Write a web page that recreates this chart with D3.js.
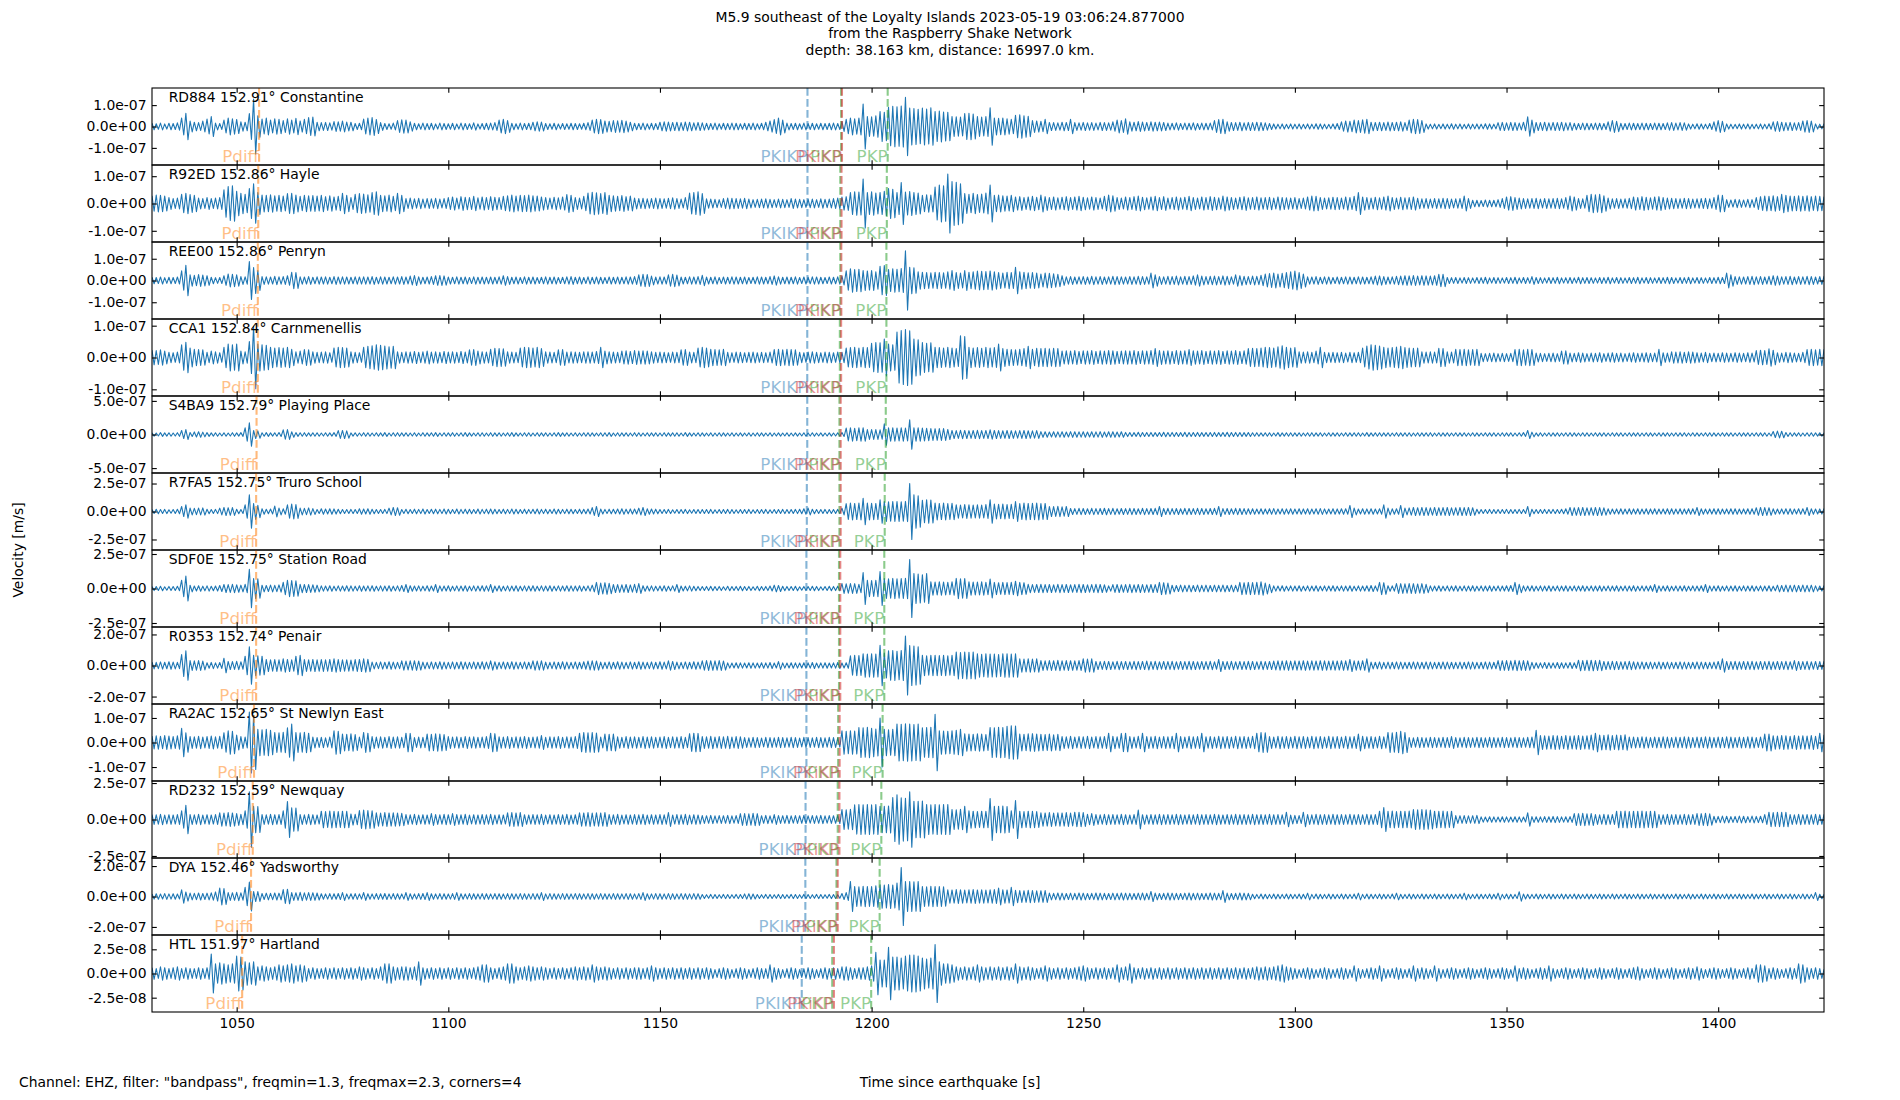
<!DOCTYPE html>
<html>
<head>
<meta charset="utf-8">
<script src="https://cdn.jsdelivr.net/npm/d3@7"></script>
<style>
  body { margin: 0; background: #fff; }
  text { font-family: "DejaVu Sans", sans-serif; }
</style>
</head>
<body>
<svg id="chart" width="1900" height="1100"></svg>
<script>
// ---- data ----
// amplitude lists: peak |velocity| in nm/s for every second from startTime on
const startTime = 1030;
const timeTicks = [1050, 1100, 1150, 1200, 1250, 1300, 1350, 1400];

const stations = ["RD884", "R92ED", "REE00", "CCA1", "S4BA9", "R7FA5", "SDF0E", "R0353", "RA2AC", "RD232", "DYA", "HTL"];
const distances = [152.91, 152.86, 152.86, 152.84, 152.79, 152.75, 152.75, 152.74, 152.65, 152.59, 152.46, 151.97];
const places = ["Constantine", "Hayle", "Penryn", "Carnmenellis", "Playing Place", "Truro School", "Station Road", "Penair", "St Newlyn East", "Newquay", "Yadsworthy", "Hartland"];

// y range (nm/s) and tick step (nm/s) of each panel
const yLimits = [180, 141, 177, 121, 573, 344, 279, 248, 157, 264, 253, 39.8];
const yTickSteps = [100, 100, 100, 100, 500, 250, 250, 200, 100, 250, 200, 25];

// phase arrival times (s)
const pdiffTimes = [1055.3, 1055.1, 1055.0, 1055.0, 1054.7, 1054.6, 1054.6, 1054.6, 1054.1, 1053.8, 1053.4, 1051.3];
const pkikpTimes = [1184.85, 1184.85, 1184.85, 1184.8, 1184.8, 1184.7, 1184.6, 1184.6, 1184.6, 1184.4, 1184.35, 1183.5];
const pkpTimes = [1192.8, 1192.6, 1192.6, 1192.5, 1192.4, 1192.4, 1192.3, 1192.3, 1192.1, 1192.0, 1191.7, 1190.7];
const pkikpInnerTimes = [1193.0, 1192.9, 1192.85, 1192.8, 1192.7, 1192.7, 1192.6, 1192.6, 1192.45, 1192.4, 1192.0, 1191.1];
const pkpLateTimes = [1203.8, 1203.6, 1203.5, 1203.5, 1203.35, 1203.1, 1203.0, 1203.0, 1202.6, 1202.3, 1201.9, 1199.9];

const ampRD884 = [
15,13,16,12,15,14,17,40,62,25, 20,18,25,35,47,16,14,30,39,36, 33,22,20,60,128,50,35,39,30,36,
34,28,36,30,38,26,34,42,44,20, 18,19,17,23,22,25,21,20,14,15, 35,39,42,33,18,14,13,16,28,31,
30,22,15,13,16,14,15,12,16,14, 13,15,12,16,14,13,17,12,14,15, 16,18,30,34,28,15,13,16,14,15,
20,22,21,14,13,15,12,14,13,15, 14,13,15,18,30,34,32,26,24,28, 27,29,25,20,15,14,16,13,15,14,
20,22,21,19,20,18,21,20,17,19, 17,15,14,16,13,15,14,16,15,13, 15,14,16,13,15,20,26,32,39,30,
16,14,15,13,16,14,15,13,15,14, 15,16,14,23,34,39,36,39,105,47, 45,50,70,66,90,94,92,96,136,86,
84,80,86,82,88,70,72,68,66,47, 45,44,60,62,58,47,44,46,88,40, 38,39,36,34,52,55,50,48,28,26,
24,34,19,18,17,20,19,34,18,17, 19,17,18,16,19,18,17,22,30,28, 36,22,20,23,21,19,22,20,21,19,
16,15,17,14,16,15,17,14,16,15, 16,28,32,34,22,19,18,20,17,19, 18,20,19,17,14,12,11,12,10,12,
11,12,10,12,11,13,12,11,10,12, 14,22,26,24,30,28,31,34,20,19, 20,18,21,19,20,22,18,30,34,32,
28,12,11,12,10,12,11,13,11,12, 10,12,11,12,11,13,12,11,18,19, 17,19,18,16,20,45,30,19,18,20,
17,19,18,20,17,18,15,14,16,15, 14,16,15,14,22,28,24,15,14,16, 15,14,16,15,14,16,15,14,17,18,
16,18,17,12,11,13,12,11,14,22, 28,24,12,11,10,12,11,12,10,11, 12,11,13,22,23,20,18,19,17,18,
26,28,25,12,11,12];

const ampR92ED = [
28,31,30,27,22,18,20,34,37,33, 30,20,18,22,18,20,22,50,62,65, 45,37,34,55,72,40,31,30,32,28,
30,27,36,37,31,26,30,28,29,27, 30,25,28,24,26,37,30,22,34,36, 35,32,40,43,30,28,31,26,37,30,
18,20,17,19,16,18,17,19,16,18, 22,24,20,25,23,22,26,21,24,22, 25,23,22,26,28,31,27,30,29,31,
28,27,24,22,20,23,21,24,33,30, 22,20,26,38,41,39,36,40,30,28, 26,29,25,27,20,18,19,17,18,20,
18,17,19,21,18,16,22,38,40,43, 36,17,16,15,14,18,20,19,18,17, 19,16,14,15,16,17,15,14,16,15,
14,18,16,15,14,15,16,14,17,15, 16,18,20,24,25,40,43,42,90,40, 43,38,40,45,55,52,40,77,42,44,
40,38,30,32,31,60,68,65,108,80, 78,72,36,34,37,33,35,38,68,30, 31,28,27,30,24,25,22,24,26,23,
31,25,22,24,21,23,25,22,24,26, 23,21,24,22,20,26,31,28,22,20, 24,22,25,27,23,21,24,26,22,25,
20,22,24,21,23,26,22,20,24,22, 25,23,21,27,24,22,20,23,25,21, 22,24,21,22,23,20,24,22,21,20,
22,18,20,24,27,26,22,20,21,23, 22,20,24,22,26,40,24,22,20,23, 21,24,27,22,20,23,21,22,24,19,
17,18,16,18,17,19,18,16,17,18, 27,18,12,12,11,13,12,12,14,18, 24,25,22,20,18,17,18,19,16,18,
17,18,19,17,22,27,24,18,17,30, 34,32,34,28,20,17,18,16,17,19, 24,22,25,23,21,24,25,22,20,19,
18,17,19,18,16,17,18,19,17,22, 31,30,14,13,15,14,13,15,14,22, 25,27,26,28,25,34,30,27,26,28,
26,28,25,27,26,24];

const ampREE00 = [
15,14,16,13,15,14,16,45,70,26, 24,27,25,22,15,13,14,22,30,28, 26,18,17,87,60,46,18,17,16,19,
17,18,22,38,36,17,16,18,15,17, 16,17,15,18,16,17,16,15,17,16, 17,16,18,15,17,16,15,17,16,18,
16,20,23,17,15,16,18,22,23,21, 16,15,17,15,16,14,17,15,16,15, 16,15,17,22,18,15,16,14,17,15,
16,14,15,17,15,16,14,15,17,18, 15,16,14,17,15,16,15,14,16,15, 16,15,17,16,18,26,28,27,20,16,
17,16,26,28,25,16,15,17,16,18, 24,16,15,17,14,16,15,17,16,15, 16,14,15,17,16,15,18,21,17,15,
16,15,17,14,16,15,17,16,15,14, 16,15,17,20,45,54,50,52,46,44, 46,40,65,69,50,54,52,55,136,61,
58,40,38,36,35,38,37,35,40,46, 36,34,46,38,40,43,42,41,44,40, 36,34,38,36,61,40,38,35,37,34,
30,34,33,31,28,22,17,18,16,17, 18,16,19,17,18,16,17,19,18,17, 16,18,17,19,18,17,34,26,18,17,
19,18,20,17,19,18,21,26,20,18, 19,20,18,21,19,17,26,22,19,18, 20,19,24,30,32,34,30,33,36,40,
43,36,30,17,16,18,15,17,16,14, 16,15,17,16,15,17,16,15,17,20, 21,18,16,17,19,20,22,21,23,20,
22,21,20,22,28,28,14,13,14,12, 14,13,12,14,13,15,12,14,13,12, 14,13,15,12,14,13,18,14,13,12,
14,13,15,12,13,14,12,15,13,14, 13,12,14,13,15,12,14,13,12,14, 13,15,12,14,13,12,14,13,15,14,
12,14,13,15,12,14,13,12,14,13, 15,14,34,26,18,17,16,18,19,17, 18,16,19,22,20,17,18,19,16,18,
17,19,18,16,18,19];

const ampCCA1 = [
23,22,24,20,16,15,17,40,48,30, 26,25,24,16,20,18,15,32,42,40, 42,20,18,50,98,42,40,38,32,30,
31,30,32,26,18,20,25,24,18,16, 17,18,15,30,32,31,30,18,16,15, 32,35,37,40,38,36,34,35,18,16,
18,17,19,16,18,20,17,18,16,19, 17,18,16,19,17,24,25,20,18,17, 26,29,28,27,18,17,16,30,32,31,
30,32,28,18,17,16,24,25,17,18, 17,16,18,18,17,19,32,20,18,17, 16,20,21,19,22,20,21,20,18,16,
17,16,15,17,16,24,25,17,16,30, 32,30,26,25,24,26,16,15,17,16, 15,16,17,15,16,15,17,25,26,24,
26,25,24,16,15,17,18,16,15,17, 16,15,17,16,30,31,32,30,32,31, 45,47,46,58,42,40,80,85,88,84,
58,56,47,45,46,32,31,30,32,30, 28,68,66,32,30,31,29,32,30,31, 42,28,26,25,24,26,28,35,26,29,
28,29,27,29,28,20,21,20,22,19, 21,20,22,19,21,20,22,21,19,20, 21,20,22,19,21,20,22,28,22,20,
21,19,22,20,21,25,21,20,22,19, 21,20,22,19,21,20,22,19,21,28, 29,28,30,32,31,30,34,37,32,30,
31,18,17,18,16,20,32,16,15,16, 15,16,14,16,15,16,30,36,40,38, 36,32,30,31,33,35,31,30,29,30,
18,17,18,17,29,28,18,17,26,25, 26,24,25,26,13,12,13,14,12,13, 12,13,25,26,24,26,25,14,13,12,
13,14,12,20,21,14,13,15,14,12, 14,13,15,12,14,15,13,14,12,14, 15,13,14,15,13,14,26,15,14,18,
17,18,16,18,17,15,14,16,13,14, 13,15,14,13,15,14,13,15,14,22, 23,22,27,23,15,14,16,15,14,13,
16,25,26,24,26,25];

const ampS4BA9 = [
25,22,28,24,26,23,27,60,74,30, 38,40,35,28,24,26,22,25,23,27, 24,28,99,175,60,55,25,28,24,26,
30,70,74,40,28,25,27,24,26,25, 23,26,24,28,58,60,55,24,26,23, 27,25,22,26,24,28,23,25,27,24,
26,23,25,22,27,24,26,28,23,25, 24,27,23,25,28,24,22,26,25,23, 27,24,26,22,25,28,24,23,26,25,
22,27,24,25,23,26,28,24,25,22, 26,23,25,27,24,22,26,25,28,23, 25,24,26,23,27,25,22,26,24,25,
23,27,24,26,25,22,28,24,23,26, 24,22,25,23,26,24,22,25,23,24, 22,25,23,26,24,22,25,23,24,22,
25,23,24,22,26,23,25,22,24,23, 24,22,25,30,95,99,92,98,99,74, 72,74,70,160,99,98,96,99,95,220,
99,98,96,92,89,86,88,89,75,60, 58,62,60,57,60,62,58,60,70,60, 58,56,60,57,55,58,60,56,54,58,
42,40,38,41,39,40,38,42,40,39, 41,38,40,39,42,38,40,41,37,40, 31,30,28,32,30,29,31,28,30,32,
29,31,30,28,32,29,30,31,28,30, 29,31,28,30,32,29,31,30,28,30, 25,27,24,26,25,23,28,24,26,25,
24,26,23,25,27,24,25,23,26,24, 25,23,27,24,26,25,23,28,24,25, 26,24,25,23,27,24,26,25,23,26,
24,25,27,23,26,24,25,22,26,24, 25,23,26,24,22,25,24,26,23,25, 24,26,23,25,28,60,35,24,26,23,
25,24,26,23,25,27,24,23,26,25, 23,26,24,25,22,26,24,25,23,26, 24,25,23,26,24,22,25,24,26,23,
25,24,26,23,25,24,22,26,25,24, 23,26,24,25,22,26,24,25,23,26, 24,25,23,45,50,48,30,25,24,26,
23,25,26,24,25,23];

const ampR7FA5 = [
18,20,17,19,16,18,20,45,60,30, 28,30,32,20,18,19,30,36,34,35, 20,18,60,150,70,55,25,20,22,48,
30,24,60,66,62,30,28,32,26,18, 24,22,25,23,20,18,17,19,18,24, 22,24,20,18,17,19,30,36,34,18,
20,18,21,19,22,18,20,21,19,22, 20,18,22,19,21,20,18,22,19,21, 22,20,18,21,19,22,20,18,21,19,
20,22,19,21,18,22,20,19,21,20, 18,21,20,22,35,45,22,19,21,20, 22,24,21,23,22,30,36,24,22,21,
18,17,19,16,18,17,19,16,18,17, 18,17,19,16,18,17,19,18,16,18, 17,19,16,18,17,19,16,18,17,19,
18,17,19,20,24,30,20,18,17,19, 18,17,19,30,70,75,72,75,119,75, 74,72,104,89,86,88,89,86,90,250,
149,140,100,104,102,75,72,75,70,74, 60,58,62,60,57,60,58,62,104,66, 64,66,62,65,89,70,75,72,74,75,
70,72,45,44,46,42,45,27,26,28, 27,25,28,26,27,29,26,28,25,27, 26,28,27,25,28,26,27,28,45,27,
28,26,27,25,28,27,26,28,27,25, 27,28,45,26,27,25,28,27,26,25, 24,22,25,23,24,26,22,24,23,25,
22,24,23,25,22,24,26,23,22,24, 23,25,24,54,30,22,24,23,25,22, 24,60,30,24,25,54,30,32,36,34,
36,35,33,36,34,35,36,33,34,36, 35,36,34,20,18,17,19,18,17,18, 19,17,18,19,18,45,20,18,17,19,
18,19,17,20,24,36,34,35,36,33, 34,36,35,33,24,22,23,24,22,25, 23,24,22,25,23,24,22,23,25,24,
22,24,23,25,24,36,24,22,23,25, 24,22,23,25,24,22,23,24,25,34, 36,35,34,24,22,23,25,24,22,24,
25,36,24,22,23,24];

const ampSDF0E = [
15,14,16,13,15,14,16,60,90,24, 18,20,17,19,16,18,22,29,28,30, 27,24,30,140,73,70,24,22,25,23,
26,45,60,58,55,30,29,28,27,24, 19,18,20,17,19,18,20,19,17,20, 18,19,20,17,19,18,20,17,19,22,
29,20,18,19,17,20,18,29,19,18, 20,17,19,18,20,17,19,18,20,19, 29,18,20,17,19,18,20,17,19,18,
20,17,19,18,20,17,19,18,20,19, 18,20,17,19,24,44,40,42,38,29, 28,27,29,26,30,36,20,18,19,17,
18,20,17,19,29,18,17,19,16,15, 14,15,16,14,15,13,16,14,15,16, 14,15,13,16,14,15,18,24,22,16,
15,14,16,13,15,14,16,15,13,14, 16,15,17,36,34,36,35,30,116,60, 58,60,123,72,70,73,71,72,74,210,
109,105,100,108,48,46,48,47,45,48, 73,70,72,48,46,47,48,45,68,44, 42,44,43,45,53,44,42,30,28,29,
30,28,29,27,30,28,29,27,28,30, 29,27,28,30,29,27,19,28,29,27, 28,30,27,29,28,27,29,28,44,42,
40,24,22,25,23,24,22,25,23,24, 22,24,23,25,22,24,23,44,42,44, 43,45,48,40,30,19,18,20,17,19,
18,20,17,19,18,20,17,19,18,20, 17,19,18,20,17,19,18,20,22,19, 44,42,20,19,36,35,34,36,35,33,
35,30,19,18,20,17,19,18,20,17, 19,18,20,17,19,18,20,17,19,18, 20,22,44,30,19,18,20,17,19,18,
20,17,19,18,20,17,19,18,20,17, 19,18,20,17,19,18,20,17,19,18, 20,17,19,18,20,29,19,18,20,17,
19,18,20,17,19,18,20,29,19,18, 20,17,19,18,20,17,19,18,20,17, 19,18,20,17,24,22,25,23,24,22,
25,23,24,19,18,20];

const ampR0353 = [
22,20,23,21,24,22,20,70,95,32, 30,32,28,18,20,17,19,47,26,25, 27,24,60,120,65,62,60,39,36,38,
37,43,39,36,60,65,38,37,39,36, 38,37,39,43,38,36,37,35,38,39, 43,40,22,20,23,21,24,22,20,30,
28,30,31,29,22,20,23,21,24,22, 20,23,21,24,22,20,23,21,24,22, 30,24,20,23,21,24,22,20,23,21,
30,28,30,22,20,23,21,24,22,20, 23,21,24,28,30,29,22,20,23,21, 24,22,20,23,21,24,22,20,23,21,
24,22,30,26,22,20,23,21,24,22, 30,32,31,30,32,29,17,16,18,17, 16,18,17,16,18,17,19,16,25,17,
16,18,17,16,18,17,19,16,17,18, 16,17,19,16,18,62,65,64,75,73, 75,74,130,80,95,97,92,97,190,129,
125,120,65,62,65,66,64,65,63,65, 86,84,86,85,86,75,72,75,74,73, 70,75,76,74,75,43,42,43,41,43,
32,30,32,31,33,30,32,31,30,32, 43,42,43,26,25,27,26,24,27,25, 26,24,27,25,26,28,25,27,24,26,
25,27,24,26,25,27,26,24,26,25, 27,24,39,26,25,27,24,26,25,27, 26,24,27,25,26,28,30,29,31,28,
30,29,31,28,30,29,31,30,28,30, 29,31,30,39,30,29,31,43,22,21, 23,20,22,21,23,22,20,21,23,22,
21,23,22,20,21,23,22,21,20,22, 21,23,22,20,21,23,22,21,32,31, 32,30,33,31,32,30,20,18,17,19,
18,17,19,18,17,19,18,34,32,33, 34,32,33,26,25,27,26,24,25,27, 24,22,23,21,22,20,23,21,22,20,
21,23,22,20,21,23,22,21,20,22, 26,43,26,25,27,24,26,25,27,24, 26,25,27,24,26,25,27,24,32,26,
25,27,24,26,25,27];

const ampRA2AC = [
26,27,25,28,26,24,27,58,40,24, 23,25,22,24,26,23,25,40,48,46, 30,24,22,124,110,54,52,54,50,41,
40,42,60,75,41,40,42,38,22,20, 21,19,22,48,46,34,33,35,32,22, 41,38,24,22,23,21,24,22,23,21,
38,37,20,22,21,34,33,35,34,32, 24,22,23,21,24,22,23,21,22,24, 38,36,23,22,24,21,23,22,24,21,
22,23,28,21,23,22,24,21,23,22, 24,38,41,40,41,39,22,34,33,34, 23,21,24,22,23,21,24,22,23,21,
22,24,21,23,22,24,21,36,38,37, 24,23,25,22,24,23,25,22,24,23, 20,19,21,20,18,21,20,19,21,20,
19,21,20,18,21,20,19,21,20,19, 21,20,19,48,46,48,47,61,60,62, 58,55,100,54,52,54,75,74,76,75,
73,75,60,61,62,115,48,47,46,48, 50,54,35,34,33,35,34,32,61,60, 62,61,66,68,67,34,33,35,36,34,
33,32,34,31,33,24,23,25,22,24, 23,25,22,24,23,24,38,25,23,37, 38,24,22,25,38,24,23,25,22,24,
23,25,38,24,22,25,23,24,38,23, 24,22,25,23,24,22,25,23,24,22, 25,38,41,40,24,22,25,23,24,22,
25,23,24,22,25,23,24,22,25,23, 24,22,25,23,24,34,25,23,24,22, 25,23,41,40,42,46,41,20,19,21,
20,19,21,20,19,21,20,24,20,19, 21,20,19,21,20,19,21,20,19,21, 20,19,21,20,19,21,22,50,28,27,
26,28,27,25,28,26,27,28,26,27, 30,38,30,29,31,28,30,29,31,22, 22,21,23,22,20,22,21,23,22,20,
22,21,23,22,20,22,21,23,22,20, 22,21,23,22,20,22,21,23,22,20, 22,34,34,27,26,28,27,25,28,26,
27,26,28,25,38,30];

const ampRD232 = [
34,32,35,30,33,31,34,60,97,34, 32,35,30,33,31,34,46,44,47,45, 40,35,60,190,91,88,34,32,35,33,
34,60,123,80,78,34,32,35,33,31, 57,55,58,56,54,57,56,38,35,62, 64,62,60,46,44,47,45,46,44,43,
34,32,35,30,33,31,41,34,32,35, 33,41,34,32,35,30,33,31,34,32, 35,30,33,31,46,48,45,47,33,31,
34,32,35,30,33,31,34,32,35,30, 33,46,45,47,44,46,45,48,34,32, 35,30,33,31,34,32,35,30,33,31,
34,32,48,31,34,32,35,30,33,31, 27,26,28,25,27,26,28,25,27,40, 41,39,42,40,26,28,25,34,27,26,
28,25,27,26,28,25,27,26,28,25, 27,26,28,68,66,70,100,103,101,102, 100,103,91,90,92,150,169,148,146,190,
125,124,126,103,100,103,101,102,103,68, 66,70,91,60,57,55,57,56,143,91, 90,92,88,60,130,57,55,57,56,54,
46,45,47,44,46,45,47,44,50,50, 48,35,41,34,32,35,33,34,32,35, 33,31,34,64,33,31,34,32,35,33,
34,32,35,33,31,34,32,35,33,34, 32,35,33,31,34,32,35,33,34,32, 35,33,34,32,35,33,34,32,50,30,
28,27,50,34,32,35,33,34,32,35, 33,34,32,35,33,34,32,35,33,34, 57,82,56,58,55,57,56,58,68,66,
68,67,65,57,56,58,55,57,27,26, 27,25,26,28,18,17,19,18,17,19, 18,17,19,18,17,46,20,19,18,20,
19,21,20,18,19,20,41,40,42,39, 41,34,32,35,33,34,57,56,58,55, 57,56,58,55,57,56,34,32,35,33,
34,32,35,33,34,41,40,42,39,22, 21,23,22,20,21,23,22,20,23,21, 22,34,50,48,50,49,50,34,32,35,
33,34,32,35,33,34];

const ampDYA = [
17,18,16,19,17,18,16,44,30,22, 21,23,20,22,24,30,55,52,26,25, 27,24,60,95,33,32,20,22,21,23,
22,45,48,26,25,27,24,26,25,23, 18,17,19,18,20,26,17,18,19,17, 26,18,17,19,18,20,17,19,18,17,
26,18,17,19,20,26,18,17,19,18, 17,19,26,18,17,19,18,17,19,18, 17,19,18,17,19,18,17,19,18,17,
19,18,26,17,19,18,17,19,18,17, 19,18,17,19,18,17,19,18,17,19, 18,17,19,18,17,19,26,18,17,19,
18,17,19,18,17,19,18,17,19,18, 13,12,14,13,12,14,13,12,14,13, 17,18,16,13,12,14,13,12,14,13,
12,14,13,12,14,13,12,14,13,12, 14,13,12,20,26,99,66,64,67,65, 66,70,77,75,78,76,88,190,99,98,
96,99,66,64,67,65,66,64,44,43, 45,44,42,44,45,43,44,42,44,45, 55,44,43,61,40,39,38,40,39,37,
38,39,22,21,23,22,20,22,21,23, 22,20,21,23,22,21,20,22,21,23, 22,21,20,22,23,21,33,22,20,21,
23,22,21,20,22,23,21,22,20,21, 23,22,21,39,22,20,21,23,22,21, 15,14,16,15,14,16,15,14,16,15,
14,16,15,22,14,16,15,14,16,15, 14,16,15,14,16,22,14,16,15,14, 16,15,14,16,22,15,14,16,15,14,
16,15,14,16,15,14,16,15,14,16, 22,15,14,16,15,14,16,15,22,14, 16,15,14,31,16,15,14,16,15,14,
16,15,14,16,15,14,16,15,14,16, 15,14,16,15,14,16,15,14,16,15, 14,16,15,14,16,15,14,16,15,14,
16,15,14,16,15,14,16,15,14,16, 15,14,16,15,14,16,15,14,16,15, 14,16,15,14,16,15,14,16,15,14,
16,15,14,26,15,14];

const ampHTL = [
6,5,7,6,5,6,7,5,6,5, 5,6,5,6,20,10,11,10,9,10, 18,17,12,11,12,7,8,7,6,7,
9,8,9,10,8,9,8,5,6,5, 5,6,5,6,5,6,5,6,5,7, 6,5,6,5,7,10,10,7,6,7,
7,6,7,12,6,5,6,5,6,5, 6,5,6,5,6,5,6,7,9,9, 6,5,6,7,10,10,7,6,7,8,
7,6,7,6,5,6,5,6,5,6, 7,6,7,6,9,7,6,7,6,5, 6,5,6,5,6,6,5,6,8,6,
5,6,5,6,5,6,5,6,5,6, 5,6,5,4,5,6,5,4,5,6, 5,4,5,6,5,5,9,6,5,4,
5,6,5,4,5,6,5,4,5,6, 5,6,5,7,7,6,5,6,6,7, 8,22,14,14,27,17,17,16,18,19,
19,18,16,15,16,30,12,10,10,9, 7,6,7,6,7,9,7,6,7,6, 7,6,7,6,10,7,6,7,6,5,
6,8,6,5,6,5,6,5,6,7, 8,6,5,6,5,6,5,6,9,6, 7,10,6,5,6,5,6,5,6,5,
6,5,6,5,6,5,6,5,6,5, 6,5,6,5,6,5,6,5,6,5, 6,7,6,7,6,7,8,9,7,6,
5,4,5,6,5,4,5,6,5,4, 5,6,5,4,8,5,4,5,6,5, 8,5,4,5,6,5,4,5,8,5,
6,5,4,8,5,4,5,6,5,4, 5,6,5,4,5,6,5,4,5,6, 5,4,8,5,6,5,4,5,6,5,
8,5,4,5,6,5,4,5,6,5, 4,5,6,5,4,5,6,5,4,5, 6,7,5,4,5,6,5,4,5,6,
5,4,5,6,5,7,5,4,5,6, 5,4,5,6,5,4,5,6,5,9, 9,8,5,6,5,4,5,6,5,10,
9,6,5,6,5,4];

const amplitudes = [ampRD884, ampR92ED, ampREE00, ampCCA1, ampS4BA9, ampR7FA5,
                    ampSDF0E, ampR0353, ampRA2AC, ampRD232, ampDYA, ampHTL];

// phases drawn on every panel, in arrival order
const phases = [
    {name: "Pdiff", color: "#ff7f0e", times: pdiffTimes},
    {name: "PKIKP", color: "#1f77b4", times: pkikpTimes},
    {name: "PKP",   color: "#2ca02c", times: pkpTimes},
    {name: "PKiKP", color: "#d62728", times: pkikpInnerTimes},
    {name: "PKP",   color: "#2ca02c", times: pkpLateTimes}
];

// ---- layout ----
const svg = d3.select("#chart");
const plotLeft = 152, plotRight = 1824, plotTop = 88, plotBottom = 1012;
const panelH = (plotBottom - plotTop) / stations.length;
const tickLen = 4.8;
const fontSize = 13.9;

const x = d3.scaleLinear().domain([1030, 1425]).range([plotLeft, plotRight]);

// tick labels like 1.0e-07
function sci(v) {
    const s = (v * 1e-9).toExponential(1);
    const [m, e] = s.split("e");
    const sign = e[0] === "-" ? "-" : "+";
    const digits = e.replace(/[+-]/, "").padStart(2, "0");
    return m + "e" + sign + digits;
}

const line = d3.line();

stations.forEach((st, k) => {
    const y0 = plotTop + k * panelH;
    const y = d3.scaleLinear().domain([-yLimits[k], yLimits[k]]).range([y0 + panelH, y0]);
    const g = svg.append("g");

    svg.append("clipPath").attr("id", "clip" + k)
        .append("rect").attr("x", plotLeft).attr("y", y0).attr("width", plotRight - plotLeft).attr("height", panelH);

    // waveform: every second drawn as its max then its min
    const pts = [];
    amplitudes[k].forEach((a, i) => {
        const t = startTime + i;
        pts.push([x(t), y(a)]);
        pts.push([x(t + 0.5), y(-a)]);
    });
    g.append("path")
        .attr("clip-path", "url(#clip" + k + ")")
        .attr("d", line(pts))
        .attr("fill", "none")
        .attr("stroke", "#1f77b4")
        .attr("stroke-width", 1.1)
        .attr("stroke-linejoin", "round");

    // phase markers
    phases.forEach(ph => {
        const px = x(ph.times[k]);
        g.append("line")
            .attr("x1", px).attr("x2", px).attr("y1", y0).attr("y2", y0 + panelH)
            .attr("stroke", ph.color).attr("stroke-opacity", 0.55)
            .attr("stroke-width", 2.1).attr("stroke-dasharray", "7.7,3.3");
    });
    phases.forEach(ph => {
        g.append("text")
            .attr("x", x(ph.times[k])).attr("y", y0 + panelH - 3.5)
            .attr("text-anchor", "end")
            .attr("font-size", 16.7)
            .attr("fill", ph.color).attr("fill-opacity", 0.5)
            .text(ph.name);
    });

    // station label
    g.append("text")
        .attr("x", plotLeft + 16.7).attr("y", y0 + 13.6)
        .attr("font-size", fontSize)
        .text(`${st} ${distances[k].toFixed(2)}° ${places[k]}`);

    // axes, ticks pointing inwards
    const yt = [-yTickSteps[k], 0, yTickSteps[k]];
    const axL = g.append("g").attr("transform", `translate(${plotLeft},0)`)
        .call(d3.axisLeft(y).tickValues(yt).tickSizeInner(-tickLen).tickSizeOuter(0).tickPadding(5.5).tickFormat(sci));
    const axR = g.append("g").attr("transform", `translate(${plotRight},0)`)
        .call(d3.axisRight(y).tickValues(yt).tickSizeInner(-tickLen).tickSizeOuter(0).tickFormat(""));
    const axT = g.append("g").attr("transform", `translate(0,${y0})`)
        .call(d3.axisTop(x).tickValues(timeTicks).tickSizeInner(-tickLen).tickSizeOuter(0).tickFormat(""));
    const axB = g.append("g").attr("transform", `translate(0,${y0 + panelH})`)
        .call(d3.axisBottom(x).tickValues(timeTicks).tickSizeInner(-tickLen).tickSizeOuter(0).tickPadding(6)
            .tickFormat(k === stations.length - 1 ? d3.format("d") : ""));
    [axL, axR, axT, axB].forEach(a => {
        a.select(".domain").remove();
        a.selectAll("line").attr("stroke", "#000").attr("stroke-width", 1.1);
        a.selectAll("text").attr("font-size", fontSize).attr("font-family", '"DejaVu Sans", sans-serif').attr("fill", "#000");
    });

    g.append("rect")
        .attr("x", plotLeft).attr("y", y0).attr("width", plotRight - plotLeft).attr("height", panelH)
        .attr("fill", "none").attr("stroke", "#000").attr("stroke-width", 1.1);
});

// titles and labels
const titleLines = [
    "M5.9 southeast of the Loyalty Islands 2023-05-19 03:06:24.877000",
    "from the Raspberry Shake Network",
    "depth: 38.163 km, distance: 16997.0 km."
];
svg.append("g").selectAll("text").data(titleLines).join("text")
    .attr("x", 950).attr("y", (d, i) => 21.5 + i * 16.5)
    .attr("text-anchor", "middle").attr("font-size", fontSize)
    .text(d => d);

svg.append("text")
    .attr("transform", "translate(18,550) rotate(-90)")
    .attr("text-anchor", "middle").attr("dominant-baseline", "central")
    .attr("font-size", fontSize)
    .text("Velocity [m/s]");

svg.append("text")
    .attr("x", 950).attr("y", 1087)
    .attr("text-anchor", "middle").attr("font-size", fontSize)
    .text("Time since earthquake [s]");

svg.append("text")
    .attr("x", 19).attr("y", 1087)
    .attr("font-size", fontSize)
    .text('Channel: EHZ, filter: "bandpass", freqmin=1.3, freqmax=2.3, corners=4');
</script>
</body>
</html>
